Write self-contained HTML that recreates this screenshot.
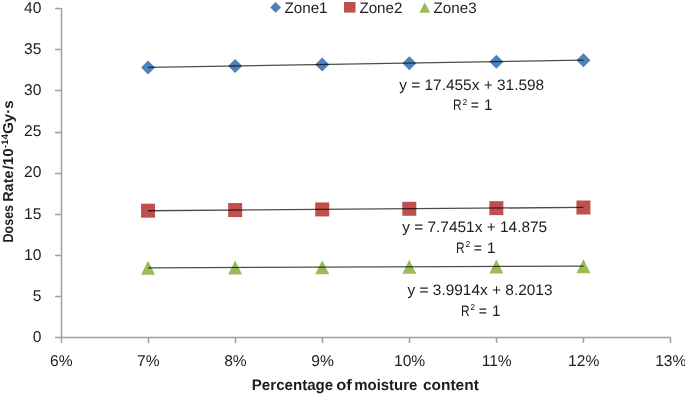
<!DOCTYPE html>
<html><head><meta charset="utf-8"><style>
html,body{margin:0;padding:0;background:#fff;}
svg{display:block;will-change:transform;}
text{font-family:"Liberation Sans",sans-serif;fill:#1e1e1e;text-rendering:geometricPrecision;}
</style></head><body>
<svg width="685" height="394" viewBox="0 0 685 394" font-size="15.2">
<path d="M61.5 8V338M61 337.5H671" stroke="#a0a0a0" stroke-width="1.5" fill="none"/>
<path d="M55 337.5H61 M55 296.5H61 M55 255.5H61 M55 214.5H61 M55 173.5H61 M55 132.5H61 M55 90.5H61 M55 49.5H61 M55 8.5H61 M61.5 338V343 M148.5 338V343 M235.5 338V343 M322.5 338V343 M409.5 338V343 M496.5 338V343 M583.5 338V343 M670.5 338V343" stroke="#a0a0a0" stroke-width="1.5" fill="none"/>
<text x="41.4" y="342.10" text-anchor="end" font-size="15.6">0</text>
<text x="41.4" y="300.91" text-anchor="end" font-size="15.6">5</text>
<text x="41.4" y="259.73" text-anchor="end" font-size="15.6">10</text>
<text x="41.4" y="218.54" text-anchor="end" font-size="15.6">15</text>
<text x="41.4" y="177.35" text-anchor="end" font-size="15.6">20</text>
<text x="41.4" y="136.16" text-anchor="end" font-size="15.6">25</text>
<text x="41.4" y="94.97" text-anchor="end" font-size="15.6">30</text>
<text x="41.4" y="53.79" text-anchor="end" font-size="15.6">35</text>
<text x="41.4" y="12.60" text-anchor="end" font-size="15.6">40</text>
<text x="61.30" y="365.5" text-anchor="middle" font-size="15.6">6%</text>
<text x="148.37" y="365.5" text-anchor="middle" font-size="15.6">7%</text>
<text x="235.44" y="365.5" text-anchor="middle" font-size="15.6">8%</text>
<text x="322.51" y="365.5" text-anchor="middle" font-size="15.6">9%</text>
<text x="409.59" y="365.5" text-anchor="middle" font-size="15.6">10%</text>
<text x="496.66" y="365.5" text-anchor="middle" font-size="15.6">11%</text>
<text x="583.73" y="365.5" text-anchor="middle" font-size="15.6">12%</text>
<text x="670.80" y="365.5" text-anchor="middle" font-size="15.6">13%</text>
<path d="M148.07 60.45L155.07 67.45L148.07 74.45L141.07 67.45Z" fill="#4F81BD"/>
<rect x="141.07" y="203.70" width="14" height="14" fill="#C0504D"/>
<path d="M148.07 260.84L155.07 274.84L141.07 274.84Z" fill="#9BBB59"/>
<path d="M235.14 59.01L242.14 66.01L235.14 73.01L228.14 66.01Z" fill="#4F81BD"/>
<rect x="228.14" y="203.06" width="14" height="14" fill="#C0504D"/>
<path d="M235.14 260.51L242.14 274.51L228.14 274.51Z" fill="#9BBB59"/>
<path d="M322.21 57.57L329.21 64.57L322.21 71.57L315.21 64.57Z" fill="#4F81BD"/>
<rect x="315.21" y="202.43" width="14" height="14" fill="#C0504D"/>
<path d="M322.21 260.18L329.21 274.18L315.21 274.18Z" fill="#9BBB59"/>
<path d="M409.29 56.13L416.29 63.13L409.29 70.13L402.29 63.13Z" fill="#4F81BD"/>
<rect x="402.29" y="201.79" width="14" height="14" fill="#C0504D"/>
<path d="M409.29 259.85L416.29 273.85L402.29 273.85Z" fill="#9BBB59"/>
<path d="M496.36 54.70L503.36 61.70L496.36 68.70L489.36 61.70Z" fill="#4F81BD"/>
<rect x="489.36" y="201.15" width="14" height="14" fill="#C0504D"/>
<path d="M496.36 259.53L503.36 273.53L489.36 273.53Z" fill="#9BBB59"/>
<path d="M583.43 53.26L590.43 60.26L583.43 67.26L576.43 60.26Z" fill="#4F81BD"/>
<rect x="576.43" y="200.51" width="14" height="14" fill="#C0504D"/>
<path d="M583.43 259.20L590.43 273.20L576.43 273.20Z" fill="#9BBB59"/>
<path d="M148.07 67.40L583.43 60.06" stroke="#000" stroke-opacity="0.7" stroke-width="1.3" fill="none"/>
<path d="M148.07 210.75L583.43 207.41" stroke="#000" stroke-opacity="0.7" stroke-width="1.3" fill="none"/>
<path d="M148.07 267.89L583.43 266.10" stroke="#000" stroke-opacity="0.7" stroke-width="1.3" fill="none"/>
<text x="399.2" y="90.1" font-size="15.2" textLength="145" lengthAdjust="spacingAndGlyphs">y = 17.455x + 31.598</text>
<text x="453.00" y="110.4" font-size="15.2" textLength="8.6" lengthAdjust="spacingAndGlyphs">R</text>
<text x="462.40" y="104.80" font-size="8.6">2</text>
<text x="470.80" y="110.4" font-size="15.2" textLength="8.2" lengthAdjust="spacingAndGlyphs">=</text>
<text x="484.00" y="110.4" font-size="15.2">1</text>
<text x="402.2" y="232.0" font-size="15.2" textLength="145" lengthAdjust="spacingAndGlyphs">y = 7.7451x + 14.875</text>
<text x="456.00" y="252.6" font-size="15.2" textLength="8.6" lengthAdjust="spacingAndGlyphs">R</text>
<text x="465.40" y="247.00" font-size="8.6">2</text>
<text x="473.80" y="252.6" font-size="15.2" textLength="8.2" lengthAdjust="spacingAndGlyphs">=</text>
<text x="487.00" y="252.6" font-size="15.2">1</text>
<text x="407.5" y="295.3" font-size="15.2" textLength="145" lengthAdjust="spacingAndGlyphs">y = 3.9914x + 8.2013</text>
<text x="460.90" y="315.6" font-size="15.2" textLength="8.6" lengthAdjust="spacingAndGlyphs">R</text>
<text x="470.30" y="310.00" font-size="8.6">2</text>
<text x="478.70" y="315.6" font-size="15.2" textLength="8.2" lengthAdjust="spacingAndGlyphs">=</text>
<text x="491.90" y="315.6" font-size="15.2">1</text>
<path d="M275.6 2L281 7.4L275.6 12.8L270.2 7.4Z" fill="#4F81BD"/>
<text x="284.5" y="13.0">Zone1</text>
<rect x="344" y="2" width="11.5" height="10.6" fill="#C0504D"/>
<text x="359.4" y="13.0">Zone2</text>
<path d="M424.8 2.5L430.3 12.7L419.3 12.7Z" fill="#9BBB59"/>
<text x="433.6" y="13.0">Zone3</text>
<text x="251.8" y="390.4" font-weight="bold" textLength="81.4" lengthAdjust="spacingAndGlyphs">Percentage</text>
<text x="336.2" y="390.4" font-weight="bold" textLength="15.6" lengthAdjust="spacingAndGlyphs">of</text>
<text x="354.2" y="390.4" font-weight="bold" textLength="63.2" lengthAdjust="spacingAndGlyphs">moisture</text>
<text x="422.9" y="390.4" font-weight="bold" textLength="55.9" lengthAdjust="spacingAndGlyphs">content</text>
<text transform="translate(13.2,242.4) rotate(-90)" font-weight="bold" font-size="14.4" textLength="37.4" lengthAdjust="spacingAndGlyphs">Doses</text>
<text transform="translate(13.2,201.8) rotate(-90)" font-weight="bold" font-size="14.4" textLength="31.3" lengthAdjust="spacingAndGlyphs">Rate</text>
<text transform="translate(13.2,169.5) rotate(-90)" font-weight="bold" font-size="14.4" textLength="69.3" lengthAdjust="spacingAndGlyphs">/10<tspan font-size="9.4" dy="-5">-14</tspan><tspan dy="5">Gy·s</tspan></text>
</svg>
</body></html>
